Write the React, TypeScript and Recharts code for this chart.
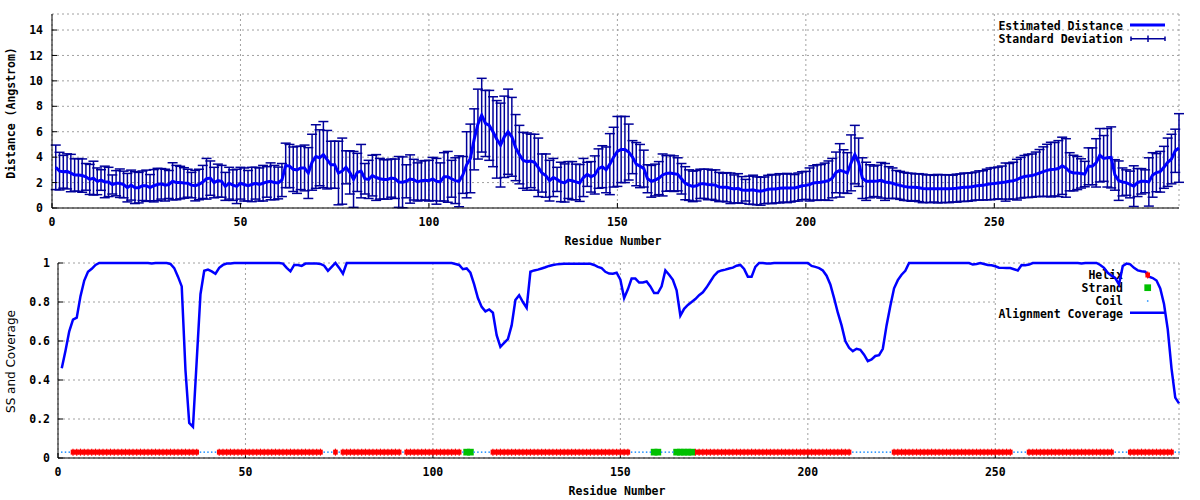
import React from 'react';
import { ComposedChart, Line, XAxis, YAxis, CartesianGrid, ErrorBar } from 'recharts';

// Estimated distance per residue (1..299)
const DIST = [
  3.2, 2.9, 2.85, 2.88, 2.75, 2.6, 2.6, 2.55, 2.45, 2.25,
  2.35, 2.1, 2.2, 2.05, 2.05, 1.85, 1.95, 1.95, 1.85, 1.6,
  1.8, 1.6, 1.6, 1.75, 1.75, 1.6, 1.75, 1.85, 1.9, 1.8,
  1.85, 2.1, 2.0, 2.0, 1.97, 1.95, 1.8, 1.76, 1.85, 2.05,
  2.3, 2.35, 2.0, 2.15, 2.1, 1.7, 1.95, 1.8, 1.7, 1.95,
  1.85, 1.75, 1.85, 1.95, 1.85, 1.95, 2.05, 2.1, 2.0, 1.97,
  2.2, 3.35, 3.3, 3.05, 3.0, 3.15, 3.15, 2.75, 3.6, 4.05,
  3.95, 4.2, 3.8, 3.4, 3.4, 2.75, 2.9, 3.2, 2.8, 2.25,
  2.8, 2.9, 2.3, 2.25, 2.55, 2.4, 2.3, 2.25, 2.25, 2.35,
  2.3, 2.05, 2.02, 2.1, 2.28, 2.23, 2.05, 2.15, 2.18, 2.15,
  2.28, 2.1, 2.05, 2.45, 2.45, 2.3, 2.15, 2.1, 2.6, 3.4,
  3.9, 5.4, 6.6, 7.3, 6.65, 6.5, 6.0, 5.4, 4.95, 5.6,
  6.0, 5.6, 4.75, 4.2, 3.75, 3.65, 3.7, 3.6, 3.2, 2.75,
  2.55, 2.15, 2.4, 2.25, 2.05, 1.97, 2.2, 2.15, 2.05, 1.97,
  2.4, 2.65, 2.45, 2.6, 3.1, 3.25, 3.0, 3.45, 4.0, 4.45,
  4.6, 4.6, 4.4, 4.0, 3.45, 3.3, 3.1, 2.3, 2.1, 2.2,
  2.35, 2.6, 2.72, 2.75, 2.7, 2.65, 2.3, 1.95, 1.8, 1.7,
  1.75, 1.9, 1.9, 1.85, 1.83, 1.8, 1.65, 1.63, 1.63, 1.55,
  1.5, 1.55, 1.42, 1.4, 1.4, 1.43, 1.35, 1.32, 1.39, 1.47,
  1.49, 1.5, 1.55, 1.57, 1.57, 1.57, 1.58, 1.65, 1.75, 1.78,
  1.85, 1.97, 2.0, 2.02, 2.08, 2.15, 2.35, 2.8, 2.96, 2.88,
  2.75, 3.55, 4.2, 3.6, 2.35, 2.1, 2.1, 2.1, 2.12, 2.18,
  2.05, 2.0, 1.95, 1.85, 1.78, 1.7, 1.66, 1.63, 1.63, 1.6,
  1.54, 1.52, 1.52, 1.52, 1.52, 1.52, 1.52, 1.52, 1.53, 1.56,
  1.6, 1.63, 1.63, 1.67, 1.73, 1.77, 1.78, 1.85, 1.9, 1.93,
  1.97, 2.0, 2.04, 2.1, 2.15, 2.23, 2.38, 2.48, 2.52, 2.55,
  2.65, 2.75, 2.86, 2.96, 3.02, 3.05, 3.1, 3.32, 3.15, 2.85,
  2.75, 2.75, 2.72, 2.67, 3.28, 3.28, 3.55, 4.15, 3.9, 3.95,
  3.98, 2.6, 2.15, 2.05, 2.0, 1.85, 1.72, 2.0, 2.1, 2.1,
  2.05, 2.6, 2.78, 2.85, 3.2, 3.6, 3.85, 4.5, 4.72,
];

// Standard deviation per residue
const SD = [
  1.75, 1.48, 1.29, 1.38, 1.47, 1.27, 1.29, 1.31, 1.05, 1.18,
  1.33, 1.05, 0.81, 1.24, 1.15, 0.75, 0.99, 1.12, 1.05, 1.12,
  1.18, 1.25, 1.2, 1.16, 1.23, 1.03, 1.27, 1.27, 1.2, 1.25,
  1.1, 1.46, 1.35, 1.28, 1.2, 1.1, 1.0, 1.2, 1.2, 1.3,
  1.6, 1.35, 1.2, 1.3, 1.25, 1.1, 1.25, 1.2, 1.35, 1.25,
  1.3, 1.2, 1.35, 1.25, 1.3, 1.4, 1.2, 1.45, 1.35, 1.25,
  1.3, 1.75, 1.7, 1.75, 1.85, 1.7, 1.8, 2.0, 2.2, 2.5,
  2.2, 2.6, 2.3, 1.85, 1.85, 2.5, 2.6, 1.3, 1.7, 2.2,
  1.5, 2.1, 1.2, 1.5, 1.6, 1.8, 1.6, 1.55, 1.55, 1.5,
  1.55, 2.0, 2.0, 1.3, 1.9, 1.6, 1.5, 1.55, 1.55, 1.6,
  1.7, 1.8, 1.5, 1.9, 2.0, 1.45, 1.8, 2.0, 1.45, 2.6,
  2.7, 2.4, 2.75, 2.9, 2.6, 2.75, 2.75, 3.05, 3.3, 3.2,
  3.35, 3.1, 2.6, 2.3, 2.2, 2.25, 2.1, 2.2, 2.3, 1.5,
  1.7, 1.6, 1.5, 0.95, 1.55, 1.5, 1.45, 1.5, 1.4, 1.45,
  1.5, 0.95, 1.2, 1.5, 1.55, 1.65, 1.8, 2.4, 2.35, 2.75,
  2.6, 2.6, 2.2, 1.3, 1.7, 1.7, 1.45, 1.1, 1.25, 1.25,
  1.3, 1.65, 1.4, 1.4, 1.4, 1.3, 1.2, 1.3, 1.2, 1.2,
  1.2, 1.15, 1.15, 1.2, 1.15, 1.2, 1.15, 1.1, 1.15, 1.2,
  1.1, 1.15, 1.05, 0.85, 1.1, 1.15, 1.1, 1.1, 1.05, 1.1,
  1.15, 1.1, 1.15, 1.1, 1.15, 1.1, 1.05, 1.1, 1.1, 1.1,
  1.3, 1.35, 1.4, 1.4, 1.45, 1.55, 1.55, 1.6, 2.1, 1.7,
  1.6, 2.2, 2.3, 1.9, 1.6, 1.5, 1.3, 1.2, 1.25, 1.4,
  1.45, 1.25, 1.2, 1.1, 1.1, 1.1, 1.08, 1.1, 1.05, 1.1,
  1.12, 1.08, 1.1, 1.05, 1.12, 1.1, 1.08, 1.1, 1.05, 1.1,
  1.08, 1.12, 1.1, 1.1, 1.1, 1.15, 1.15, 1.2, 1.25, 1.25,
  1.25, 1.3, 1.5, 1.4, 1.45, 1.6, 1.6, 1.65, 1.7, 1.7,
  1.75, 1.85, 1.95, 2.05, 2.15, 2.1, 2.2, 2.25, 2.3, 1.5,
  1.4, 1.3, 1.15, 1.0, 1.45, 1.45, 1.9, 2.1, 1.8, 2.3,
  2.4, 1.2, 1.55, 1.1, 1.0, 1.05, 1.6, 1.1, 1.0, 0.9,
  1.9, 1.75, 1.5, 1.6, 1.65, 1.9, 1.95, 1.7, 2.7,
];

// Alignment coverage per residue
const COV = [
  0.46, 0.55, 0.65, 0.71, 0.72, 0.83, 0.91, 0.955, 0.97, 0.99,
  1, 1, 1, 1, 1, 1, 1, 1, 1, 1,
  1, 1, 1, 1, 0.997, 1, 1, 1, 1, 0.995,
  0.974, 0.93, 0.88, 0.45, 0.18, 0.16, 0.5, 0.84, 0.96, 0.966,
  0.957, 0.945, 0.975, 0.99, 0.997, 0.997, 1, 1, 1, 1,
  1, 1, 1, 1, 1, 1, 1, 1, 1, 0.997,
  0.975, 0.957, 0.99, 0.99, 0.985, 0.997, 0.997, 0.997, 0.997, 0.995,
  0.986, 0.96, 0.98, 1, 0.975, 0.945, 1, 1, 1, 1,
  1, 1, 1, 1, 1, 1, 1, 1, 1, 1,
  1, 1, 1, 1, 1, 1, 1, 1, 1, 1,
  1, 1, 1, 1, 1, 0.995, 0.99, 0.968, 0.972, 0.95,
  0.89, 0.82, 0.775, 0.752, 0.762, 0.745, 0.63, 0.57, 0.59, 0.61,
  0.68, 0.81, 0.835, 0.8, 0.77, 0.955, 0.962, 0.966, 0.972, 0.978,
  0.985, 0.99, 0.993, 0.995, 0.996, 0.996, 0.996, 0.996, 0.996, 0.996,
  0.996, 0.996, 0.99, 0.98, 0.974, 0.955, 0.946, 0.945, 0.95, 0.914,
  0.82, 0.865, 0.92, 0.92, 0.9, 0.9, 0.905, 0.88, 0.846, 0.846,
  0.88, 0.962, 0.94, 0.914, 0.86, 0.73, 0.765, 0.785, 0.8, 0.815,
  0.835, 0.85, 0.875, 0.905, 0.935, 0.955, 0.962, 0.966, 0.972, 0.976,
  0.986, 0.99, 0.97, 0.93, 0.93, 0.98, 1, 1, 0.997, 0.998,
  1, 1, 1, 1, 1, 1, 1, 1, 1, 1,
  0.985, 0.98, 0.974, 0.962, 0.935, 0.89, 0.82, 0.745, 0.68, 0.6,
  0.565, 0.548, 0.56, 0.555, 0.53, 0.497, 0.505, 0.523, 0.527, 0.56,
  0.68, 0.78, 0.87, 0.912, 0.94, 0.96, 1, 1, 1, 1,
  1, 1, 1, 1, 1, 1, 1, 1, 1, 1,
  1, 1, 1, 0.992, 0.995, 1, 0.995, 0.99, 0.988, 0.983,
  0.976, 0.975, 0.974, 0.974, 0.968, 0.962, 0.99, 0.988, 0.992, 1,
  1, 1, 1, 1, 1, 1, 1, 1, 1, 1,
  1, 1, 0.997, 1, 1, 1, 1, 0.99, 0.975, 0.95,
  0.935, 0.923, 0.89, 0.985, 0.997, 0.993, 0.975, 0.962, 0.958, 0.955,
  0.93, 0.923, 0.91, 0.87, 0.79, 0.66, 0.46, 0.31, 0.28,
];

// Secondary structure segments: [type, first residue, last residue]
const SS_SEGMENTS: [string, number, number][] = [
  ['C', 1, 3], ['H', 4, 37], ['C', 38, 42], ['H', 43, 70], ['C', 71, 73],
  ['H', 74, 74], ['C', 75, 75], ['H', 76, 91], ['C', 92, 92], ['H', 93, 107],
  ['C', 108, 108], ['E', 109, 110], ['C', 111, 115], ['H', 116, 152],
  ['C', 153, 158], ['E', 159, 160], ['C', 161, 164], ['E', 165, 169],
  ['H', 170, 211], ['C', 212, 222], ['H', 223, 254], ['C', 255, 258],
  ['H', 259, 281], ['C', 282, 285], ['H', 286, 297], ['C', 298, 299],
];

const X_TICKS = [0, 50, 100, 150, 200, 250];
const X_DOMAIN = [0, 299];
const DIST_TICKS = [0, 2, 4, 6, 8, 10, 12, 14];
const DIST_DOMAIN = [0, 15.26];
const COV_TICKS = [0, 0.2, 0.4, 0.6, 0.8, 1];
const SS_LEVEL = 0.03;

const ssOf = (r: number) => {
  const seg = SS_SEGMENTS.find((s) => r >= s[1] && r <= s[2]);
  return seg ? seg[0] : 'C';
};

const topData = DIST.map((d, i) => ({ r: i + 1, dist: d, sd: SD[i] }));
const botData = COV.map((c, i) => {
  const t = ssOf(i + 1);
  return {
    r: i + 1,
    cov: c,
    helix: t === 'H' ? SS_LEVEL : null,
    strand: t === 'E' ? SS_LEVEL : null,
    coil: t === 'C' ? SS_LEVEL : null,
  };
});

const MONO = "'DejaVu Sans Mono', monospace";
const TICK_STYLE = { fill: '#000', fontSize: 11.5, fontFamily: MONO, fontWeight: 'bold' as const };
const GRID = '#a0a0a0';
const RED = '#ff0000';
const GREEN = '#00c000';
const COIL = '#1e90ff';
const BLUE = '#0000ff';
const BAR = '#00009a';
const KEY_LEFT = 996;

const HelixMark = ({ cx, cy }: { cx: number; cy: number }) => (
  <g>
    <rect x={cx - 2.3} y={cy - 2.5} width={4.6} height={5} fill={RED} />
    <line x1={cx} x2={cx} y1={cy - 3.5} y2={cy + 3.5} stroke={RED} strokeWidth={1.2} />
  </g>
);
const StrandMark = ({ cx, cy }: { cx: number; cy: number }) => (
  <rect x={cx - 3.35} y={cy - 3.35} width={6.7} height={6.7} fill={GREEN} />
);
const CoilMark = ({ cx, cy }: { cx: number; cy: number }) => (
  <rect x={cx - 0.75} y={cy - 0.75} width={1.5} height={1.5} fill={COIL} />
);

const makeDot = (key: string, Comp: any) => (p: any) => {
  const v = p.payload ? p.payload[key] : null;
  if (v == null || p.cy == null || p.cx == null) return <g key={`${key}${p.index}`} />;
  return (
    <g key={`${key}${p.index}`}>
      <Comp cx={p.cx} cy={p.cy} />
    </g>
  );
};

const bottomHorizontalGrid = (p: any) => {
  const x2 = p.index === 4 ? Math.min(p.x2, KEY_LEFT) : p.x2;
  return (
    <line key={p.key ?? `hg${p.index}`} x1={p.x1} y1={p.y1} x2={x2} y2={p.y2}
      stroke={GRID} strokeDasharray="2 3" strokeWidth={1} />
  );
};

const textProps = { fontFamily: MONO, fontSize: 11.5, fontWeight: 'bold' as const, fill: '#000' };

export default function App() {
  return (
    <div style={{ position: 'absolute', left: 0, top: 0, width: 1200, height: 500, background: '#fff' }}>
      {/* top panel texts */}
      <svg width={1200} height={250} style={{ position: 'absolute', left: 0, top: 0 }}>
        <text x={1123} y={26} textAnchor="end" dominantBaseline="central" {...textProps}>Estimated Distance</text>
        <line x1={1130} x2={1165} y1={25} y2={25} stroke={BLUE} strokeWidth={3} />
        <text x={1123} y={39} textAnchor="end" dominantBaseline="central" {...textProps}>Standard Deviation</text>
        <line x1={1131} x2={1165} y1={38.7} y2={38.7} stroke={BAR} strokeWidth={1.5} />
        <line x1={1131} x2={1131} y1={36.5} y2={41} stroke={BAR} strokeWidth={1.5} />
        <line x1={1165} x2={1165} y1={36.5} y2={41} stroke={BAR} strokeWidth={1.5} />
        <line x1={1148} x2={1148} y1={35.5} y2={42} stroke={BAR} strokeWidth={1.5} />
        <text x={613} y={240.5} textAnchor="middle" dominantBaseline="central" {...textProps}>Residue Number</text>
        <text x={10.5} y={113} textAnchor="middle" dominantBaseline="central" transform="rotate(-90 10.5 113)" {...textProps}>Distance (Angstrom)</text>
      </svg>
      <div style={{ position: 'absolute', left: 0, top: 0 }}>
        <ComposedChart width={1200} height={250} data={topData} margin={{ top: 14, right: 21, bottom: 0, left: 0 }}>
          <CartesianGrid stroke={GRID} strokeDasharray="2 3" />
          <XAxis dataKey="r" type="number" domain={X_DOMAIN} ticks={X_TICKS} interval={0} height={42}
            stroke="#000" tickSize={-5} tickMargin={15} tick={TICK_STYLE} />
          <XAxis xAxisId="t" orientation="top" dataKey="r" type="number" domain={X_DOMAIN} ticks={X_TICKS} interval={0}
            height={0} stroke="#000" tickSize={-5} tick={false} />
          <YAxis type="number" domain={DIST_DOMAIN} ticks={DIST_TICKS} interval={0} width={52}
            stroke="#000" tickSize={-5} tickMargin={14} tick={TICK_STYLE} />
          <YAxis yAxisId="r" orientation="right" type="number" domain={DIST_DOMAIN} ticks={DIST_TICKS} interval={0}
            width={0} stroke="#000" tickSize={-5} tick={false} />
          <Line dataKey="dist" stroke="none" dot={false} activeDot={false} isAnimationActive={false}>
            <ErrorBar dataKey="sd" direction="y" width={5} stroke={BAR} strokeWidth={1.5} isAnimationActive={false} />
          </Line>
          <Line dataKey="dist" type="linear" stroke={BLUE} strokeWidth={3} dot={false} activeDot={false} isAnimationActive={false} />
        </ComposedChart>
      </div>

      {/* bottom panel texts */}
      <svg width={1200} height={250} style={{ position: 'absolute', left: 0, top: 250 }}>
        <text x={1123} y={25} textAnchor="end" dominantBaseline="central" {...textProps}>Helix</text>
        <text x={1123} y={37.7} textAnchor="end" dominantBaseline="central" {...textProps}>Strand</text>
        <text x={1123} y={51} textAnchor="end" dominantBaseline="central" {...textProps}>Coil</text>
        <text x={1123} y={64} textAnchor="end" dominantBaseline="central" {...textProps}>Alignment Coverage</text>
        <line x1={1130} x2={1165} y1={62.7} y2={62.7} stroke={BLUE} strokeWidth={2.5} />
        <text x={617} y={240.7} textAnchor="middle" dominantBaseline="central" {...textProps}>Residue Number</text>
        <text x={10.7} y={111.5} textAnchor="middle" dominantBaseline="central" transform="rotate(-90 10.7 111.5)"
          fontFamily="'DejaVu Sans', sans-serif" fontSize={12} fill="#000">SS and Coverage</text>
      </svg>
      <div style={{ position: 'absolute', left: 0, top: 250 }}>
        <ComposedChart width={1200} height={250} data={botData} margin={{ top: 13, right: 21, bottom: 0, left: 0 }}>
          <CartesianGrid stroke={GRID} strokeDasharray="2 3" horizontal={bottomHorizontalGrid} />
          <XAxis dataKey="r" type="number" domain={X_DOMAIN} ticks={X_TICKS} interval={0} height={42}
            stroke="#000" tickSize={-5} tickMargin={15} tick={TICK_STYLE} />
          <XAxis xAxisId="t" orientation="top" dataKey="r" type="number" domain={X_DOMAIN} ticks={X_TICKS} interval={0}
            height={0} stroke="#000" tickSize={-5} tick={false} />
          <YAxis type="number" domain={[0, 1]} ticks={COV_TICKS} interval={0} width={58}
            stroke="#000" tickSize={-5} tickMargin={13} tick={TICK_STYLE} />
          <YAxis yAxisId="r" orientation="right" type="number" domain={[0, 1]} ticks={COV_TICKS} interval={0}
            width={0} stroke="#000" tickSize={-5} tick={false} />
          <Line dataKey="helix" stroke="none" dot={makeDot('helix', HelixMark)} activeDot={false} isAnimationActive={false} />
          <Line dataKey="strand" stroke="none" dot={makeDot('strand', StrandMark)} activeDot={false} isAnimationActive={false} />
          <Line dataKey="coil" stroke="none" dot={makeDot('coil', CoilMark)} activeDot={false} isAnimationActive={false} />
          <Line dataKey="cov" type="linear" stroke={BLUE} strokeWidth={2.5} dot={false} activeDot={false} isAnimationActive={false} />
        </ComposedChart>
      </div>
      {/* key sample markers drawn above the coverage curve */}
      <svg width={1200} height={250} style={{ position: 'absolute', left: 0, top: 250, pointerEvents: 'none' }}>
        <HelixMark cx={1147.7} cy={25} />
        <StrandMark cx={1147.7} cy={37.7} />
        <CoilMark cx={1147.7} cy={51} />
      </svg>
    </div>
  );
}
